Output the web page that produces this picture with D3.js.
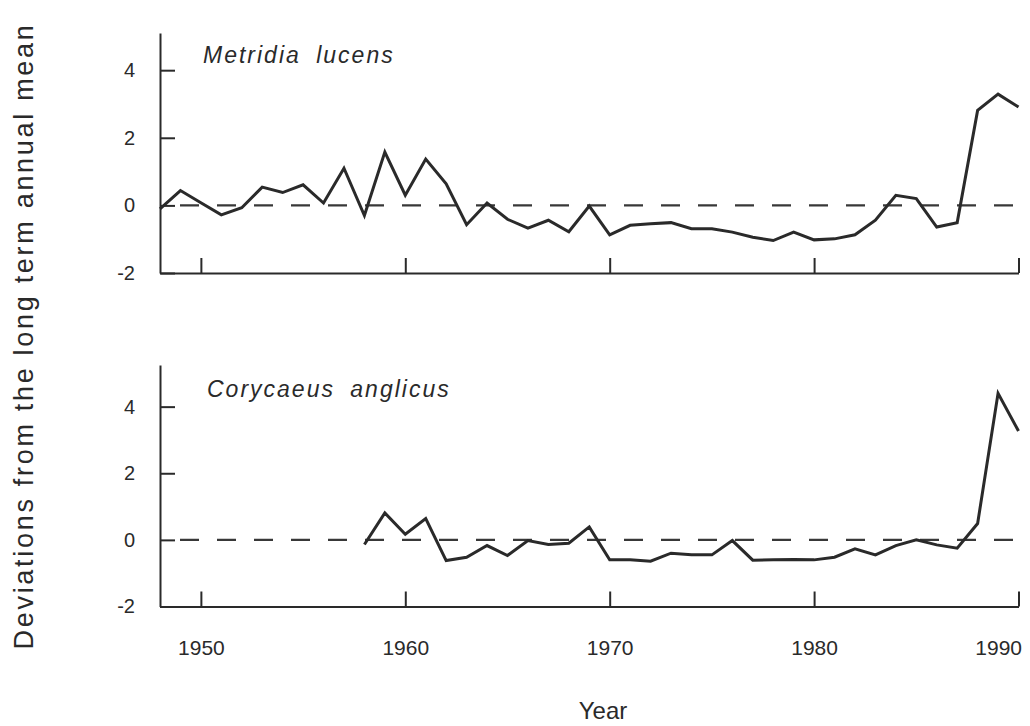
<!DOCTYPE html>
<html>
<head>
<meta charset="utf-8">
<script src="https://cdn.jsdelivr.net/npm/d3@7"></script>
<style>
  html, body { margin: 0; padding: 0; background: #fff; }
  svg { display: block; }
</style>
</head>
<body>
<script>
// Annual values, 1948-1990, as deviations from the long term annual mean
const years = [1948, 1949, 1950, 1951, 1952, 1953, 1954, 1955, 1956, 1957,
               1958, 1959, 1960, 1961, 1962, 1963, 1964, 1965, 1966, 1967,
               1968, 1969, 1970, 1971, 1972, 1973, 1974, 1975, 1976, 1977,
               1978, 1979, 1980, 1981, 1982, 1983, 1984, 1985, 1986, 1987,
               1988, 1989, 1990];

const metridiaLucens = [-0.10, 0.44, 0.08, -0.28, -0.07, 0.54, 0.38, 0.61, 0.07, 1.10,
                        -0.30, 1.58, 0.30, 1.37, 0.64, -0.57, 0.07, -0.41, -0.67, -0.44,
                        -0.78, -0.02, -0.87, -0.59, -0.54, -0.51, -0.69, -0.69, -0.79, -0.94,
                        -1.04, -0.79, -1.02, -0.99, -0.87, -0.44, 0.30, 0.20, -0.64, -0.51,
                        2.81, 3.29, 2.91];

// Corycaeus anglicus records begin in 1958
const corycaeusAnglicus = [null, null, null, null, null, null, null, null, null, null,
                           -0.14, 0.81, 0.17, 0.64, -0.62, -0.52, -0.17, -0.47, -0.02, -0.14,
                           -0.10, 0.39, -0.60, -0.60, -0.64, -0.40, -0.45, -0.45, -0.02, -0.61,
                           -0.60, -0.59, -0.60, -0.52, -0.27, -0.45, -0.17, 0.00, -0.15, -0.25,
                           0.49, 4.40, 3.27];

const speciesNames = ["Metridia lucens", "Corycaeus anglicus"];
const yTickValues = [-2, 0, 2, 4];
const xTickValues = [1950, 1960, 1970, 1980, 1990];
const yAxisTitle = "Deviations from the long term annual mean";
const xAxisTitle = "Year";

// ---- layout ----
const W = 1030, H = 726;
const INK = "#2a2a2a";
const TEXT = "#2a2a2a";
const FONT = "'Liberation Sans', Arial, Helvetica, sans-serif";

const svg = d3.select("body").append("svg")
  .attr("width", W).attr("height", H)
  .style("font-family", FONT);

const x = d3.scaleLinear().domain([years[0], years[years.length - 1]]).range([160, 1018.5]);

const panels = [
  { name: speciesNames[0], values: metridiaLucens, top: 33, bottom: 273, yMax: 5.1,
    showYears: false, titleX: 203, titleY: 63 },
  { name: speciesNames[1], values: corycaeusAnglicus, top: 365, bottom: 606.5, yMax: 5.25,
    showYears: true, titleX: 207, titleY: 397 }
];

// plain hyphen for negative tick labels
const tickText = d => String(d);

panels.forEach(p => {
  const y = d3.scaleLinear().domain([-2, p.yMax]).range([p.bottom, p.top]);
  const g = svg.append("g");

  // zero reference line
  g.append("line")
    .attr("x1", 162).attr("x2", 1020)
    .attr("y1", y(0)).attr("y2", y(0))
    .attr("stroke", "#383838").attr("stroke-width", 2.2)
    .attr("stroke-dasharray", "19,18").attr("stroke-dashoffset", 19);

  // y axis, ticks pointing inward
  const yAxis = d3.axisLeft(y).tickValues(yTickValues)
    .tickSizeInner(-15).tickSizeOuter(0).tickPadding(25)
    .tickFormat(tickText);
  const ya = g.append("g").attr("transform", "translate(160,0)").call(yAxis);

  // x axis, ticks pointing inward
  const xAxis = d3.axisBottom(x).tickValues(xTickValues)
    .tickSizeInner(-15).tickSizeOuter(0).tickPadding(34)
    .tickFormat(p.showYears ? tickText : () => "");
  const xa = g.append("g").attr("transform", `translate(0,${p.bottom})`).call(xAxis);

  [ya, xa].forEach(a => {
    a.select(".domain").attr("stroke", INK).attr("stroke-width", 2);
    a.selectAll(".tick line").attr("stroke", INK).attr("stroke-width", 2);
    a.selectAll(".tick text").attr("fill", TEXT).style("font-family", FONT);
  });
  ya.selectAll(".tick text").style("font-size", "20px");
  xa.selectAll(".tick text").style("font-size", "21px");
  // keep the last year label inside the axis end
  xa.selectAll(".tick:last-of-type text").attr("text-anchor", "end").attr("x", 3);

  // series line
  const line = d3.line()
    .defined(d => d.v !== null)
    .x(d => x(d.year))
    .y(d => y(d.v));
  g.append("path")
    .datum(years.map((yr, i) => ({ year: yr, v: p.values[i] })))
    .attr("d", line)
    .attr("fill", "none")
    .attr("stroke", INK)
    .attr("stroke-width", 3)
    .attr("stroke-linejoin", "miter")
    .attr("stroke-miterlimit", 4);

  // species name
  g.append("text")
    .attr("x", p.titleX).attr("y", p.titleY)
    .attr("fill", TEXT)
    .style("font-size", "23px")
    .style("font-style", "italic")
    .style("letter-spacing", "2px")
    .style("word-spacing", "7px")
    .text(p.name);
});

// axis titles
svg.append("text")
  .attr("transform", "translate(33,336) rotate(-90)")
  .attr("text-anchor", "middle")
  .attr("fill", TEXT)
  .style("font-size", "27px")
  .style("letter-spacing", "2.7px")
  .text(yAxisTitle);

svg.append("text")
  .attr("x", 603).attr("y", 719)
  .attr("text-anchor", "middle")
  .attr("fill", TEXT)
  .style("font-size", "24px")
  .text(xAxisTitle);
</script>
</body>
</html>
